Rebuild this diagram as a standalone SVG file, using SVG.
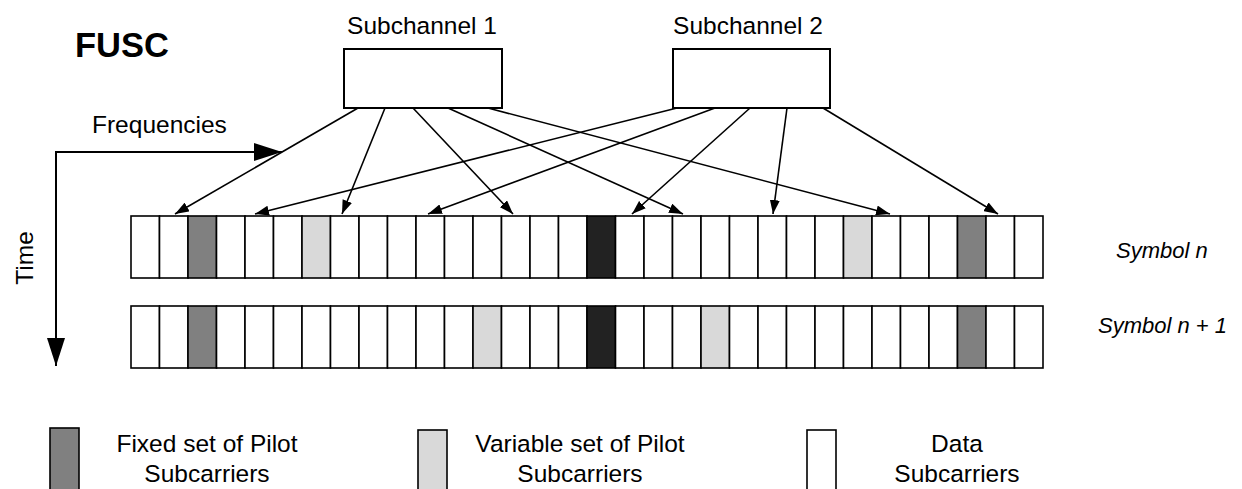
<svg xmlns="http://www.w3.org/2000/svg" width="1242" height="489" viewBox="0 0 1242 489">
<style>
text{font-family:"Liberation Sans",Arial,sans-serif;fill:#000}
.lbl{font-size:24.5px}
.sym{font-size:22px;font-style:italic}
.c{fill:#fff;stroke:#000;stroke-width:1.6}
.fp{fill:#808080;stroke:#000;stroke-width:1.6}
.vp{fill:#d9d9d9;stroke:#000;stroke-width:1.6}
.bk{fill:#222;stroke:#000;stroke-width:1.6}
.box{fill:#fff;stroke:#000;stroke-width:2}
.conn{fill:none;stroke:#000;stroke-width:1.6;marker-end:url(#ah)}
.axis{fill:none;stroke:#000;stroke-width:2;marker-end:url(#big)}
</style>
<defs>
<marker id="ah" markerUnits="userSpaceOnUse" markerWidth="14" markerHeight="10" refX="14" refY="5" orient="auto"><path d="M0,0L14,5L0,10z" fill="#000"/></marker>
<marker id="big" markerUnits="userSpaceOnUse" markerWidth="28" markerHeight="18" refX="28" refY="9" orient="auto"><path d="M0,0L28,9L0,18z" fill="#000"/></marker>
</defs>
<rect width="1242" height="489" fill="#fff"/>
<text id="title" x="75" y="57" style="font-size:34.5px;font-weight:bold">FUSC</text>
<g id="axes">
<path class="axis" d="M56,152H282"/>
<path class="axis" d="M56,151V366"/>
<text class="lbl" x="92" y="133">Frequencies</text>
<text class="lbl" transform="translate(33,258) rotate(-90)" text-anchor="middle">Time</text>
</g>
<g id="subchannel1">
<text class="lbl" x="422" y="34" text-anchor="middle">Subchannel 1</text>
<rect class="box" x="344" y="49" width="158" height="59"/>
</g>
<g id="subchannel2">
<text class="lbl" x="748" y="34" text-anchor="middle">Subchannel 2</text>
<rect class="box" x="673" y="49" width="157" height="59"/>
</g>
<g id="connectors">
<path class="conn" d="M358,108L175,214"/>
<path class="conn" d="M385,108L342,214"/>
<path class="conn" d="M413,108L513,214"/>
<path class="conn" d="M448,108L683,214"/>
<path class="conn" d="M488,108L890,214"/>
<path class="conn" d="M677,108L255,214"/>
<path class="conn" d="M715,108L428,214"/>
<path class="conn" d="M750,108L632,214"/>
<path class="conn" d="M787,108L773,214"/>
<path class="conn" d="M823,108L998,214"/>
</g>
<g id="symbol-n">
<rect class="c" x="131" y="216" width="28.5" height="62"/>
<rect class="c" x="159.5" y="216" width="28.5" height="62"/>
<rect class="fp" x="188" y="216" width="28.5" height="62"/>
<rect class="c" x="216.5" y="216" width="28.5" height="62"/>
<rect class="c" x="245" y="216" width="28.5" height="62"/>
<rect class="c" x="273.5" y="216" width="28.5" height="62"/>
<rect class="vp" x="302" y="216" width="28.5" height="62"/>
<rect class="c" x="330.5" y="216" width="28.5" height="62"/>
<rect class="c" x="359" y="216" width="28.5" height="62"/>
<rect class="c" x="387.5" y="216" width="28.5" height="62"/>
<rect class="c" x="416" y="216" width="28.5" height="62"/>
<rect class="c" x="444.5" y="216" width="28.5" height="62"/>
<rect class="c" x="473" y="216" width="28.5" height="62"/>
<rect class="c" x="501.5" y="216" width="28.5" height="62"/>
<rect class="c" x="530" y="216" width="28.5" height="62"/>
<rect class="c" x="558.5" y="216" width="28.5" height="62"/>
<rect class="bk" x="587" y="216" width="28.5" height="62"/>
<rect class="c" x="615.5" y="216" width="28.5" height="62"/>
<rect class="c" x="644" y="216" width="28.5" height="62"/>
<rect class="c" x="672.5" y="216" width="28.5" height="62"/>
<rect class="c" x="701" y="216" width="28.5" height="62"/>
<rect class="c" x="729.5" y="216" width="28.5" height="62"/>
<rect class="c" x="758" y="216" width="28.5" height="62"/>
<rect class="c" x="786.5" y="216" width="28.5" height="62"/>
<rect class="c" x="815" y="216" width="28.5" height="62"/>
<rect class="vp" x="843.5" y="216" width="28.5" height="62"/>
<rect class="c" x="872" y="216" width="28.5" height="62"/>
<rect class="c" x="900.5" y="216" width="28.5" height="62"/>
<rect class="c" x="929" y="216" width="28.5" height="62"/>
<rect class="fp" x="957.5" y="216" width="28.5" height="62"/>
<rect class="c" x="986" y="216" width="28.5" height="62"/>
<rect class="c" x="1014.5" y="216" width="28.5" height="62"/>
<text class="sym" x="1116" y="258">Symbol n</text>
</g>
<g id="symbol-n1">
<rect class="c" x="131" y="306" width="28.5" height="62"/>
<rect class="c" x="159.5" y="306" width="28.5" height="62"/>
<rect class="fp" x="188" y="306" width="28.5" height="62"/>
<rect class="c" x="216.5" y="306" width="28.5" height="62"/>
<rect class="c" x="245" y="306" width="28.5" height="62"/>
<rect class="c" x="273.5" y="306" width="28.5" height="62"/>
<rect class="c" x="302" y="306" width="28.5" height="62"/>
<rect class="c" x="330.5" y="306" width="28.5" height="62"/>
<rect class="c" x="359" y="306" width="28.5" height="62"/>
<rect class="c" x="387.5" y="306" width="28.5" height="62"/>
<rect class="c" x="416" y="306" width="28.5" height="62"/>
<rect class="c" x="444.5" y="306" width="28.5" height="62"/>
<rect class="vp" x="473" y="306" width="28.5" height="62"/>
<rect class="c" x="501.5" y="306" width="28.5" height="62"/>
<rect class="c" x="530" y="306" width="28.5" height="62"/>
<rect class="c" x="558.5" y="306" width="28.5" height="62"/>
<rect class="bk" x="587" y="306" width="28.5" height="62"/>
<rect class="c" x="615.5" y="306" width="28.5" height="62"/>
<rect class="c" x="644" y="306" width="28.5" height="62"/>
<rect class="c" x="672.5" y="306" width="28.5" height="62"/>
<rect class="vp" x="701" y="306" width="28.5" height="62"/>
<rect class="c" x="729.5" y="306" width="28.5" height="62"/>
<rect class="c" x="758" y="306" width="28.5" height="62"/>
<rect class="c" x="786.5" y="306" width="28.5" height="62"/>
<rect class="c" x="815" y="306" width="28.5" height="62"/>
<rect class="c" x="843.5" y="306" width="28.5" height="62"/>
<rect class="c" x="872" y="306" width="28.5" height="62"/>
<rect class="c" x="900.5" y="306" width="28.5" height="62"/>
<rect class="c" x="929" y="306" width="28.5" height="62"/>
<rect class="fp" x="957.5" y="306" width="28.5" height="62"/>
<rect class="c" x="986" y="306" width="28.5" height="62"/>
<rect class="c" x="1014.5" y="306" width="28.5" height="62"/>
<text class="sym" x="1098" y="333">Symbol n + 1</text>
</g>
<g id="legend-fixed">
<rect class="fp" x="50" y="428" width="29" height="64"/>
<text class="lbl" x="207" y="452" text-anchor="middle">Fixed set of Pilot</text>
<text class="lbl" x="207" y="482" text-anchor="middle">Subcarriers</text>
</g>
<g id="legend-variable">
<rect class="vp" x="418" y="430" width="29" height="64"/>
<text class="lbl" x="580" y="452" text-anchor="middle">Variable set of Pilot</text>
<text class="lbl" x="580" y="482" text-anchor="middle">Subcarriers</text>
</g>
<g id="legend-data">
<rect class="c" x="807" y="430" width="29" height="64"/>
<text class="lbl" x="957" y="452" text-anchor="middle">Data</text>
<text class="lbl" x="957" y="482" text-anchor="middle">Subcarriers</text>
</g>
</svg>
